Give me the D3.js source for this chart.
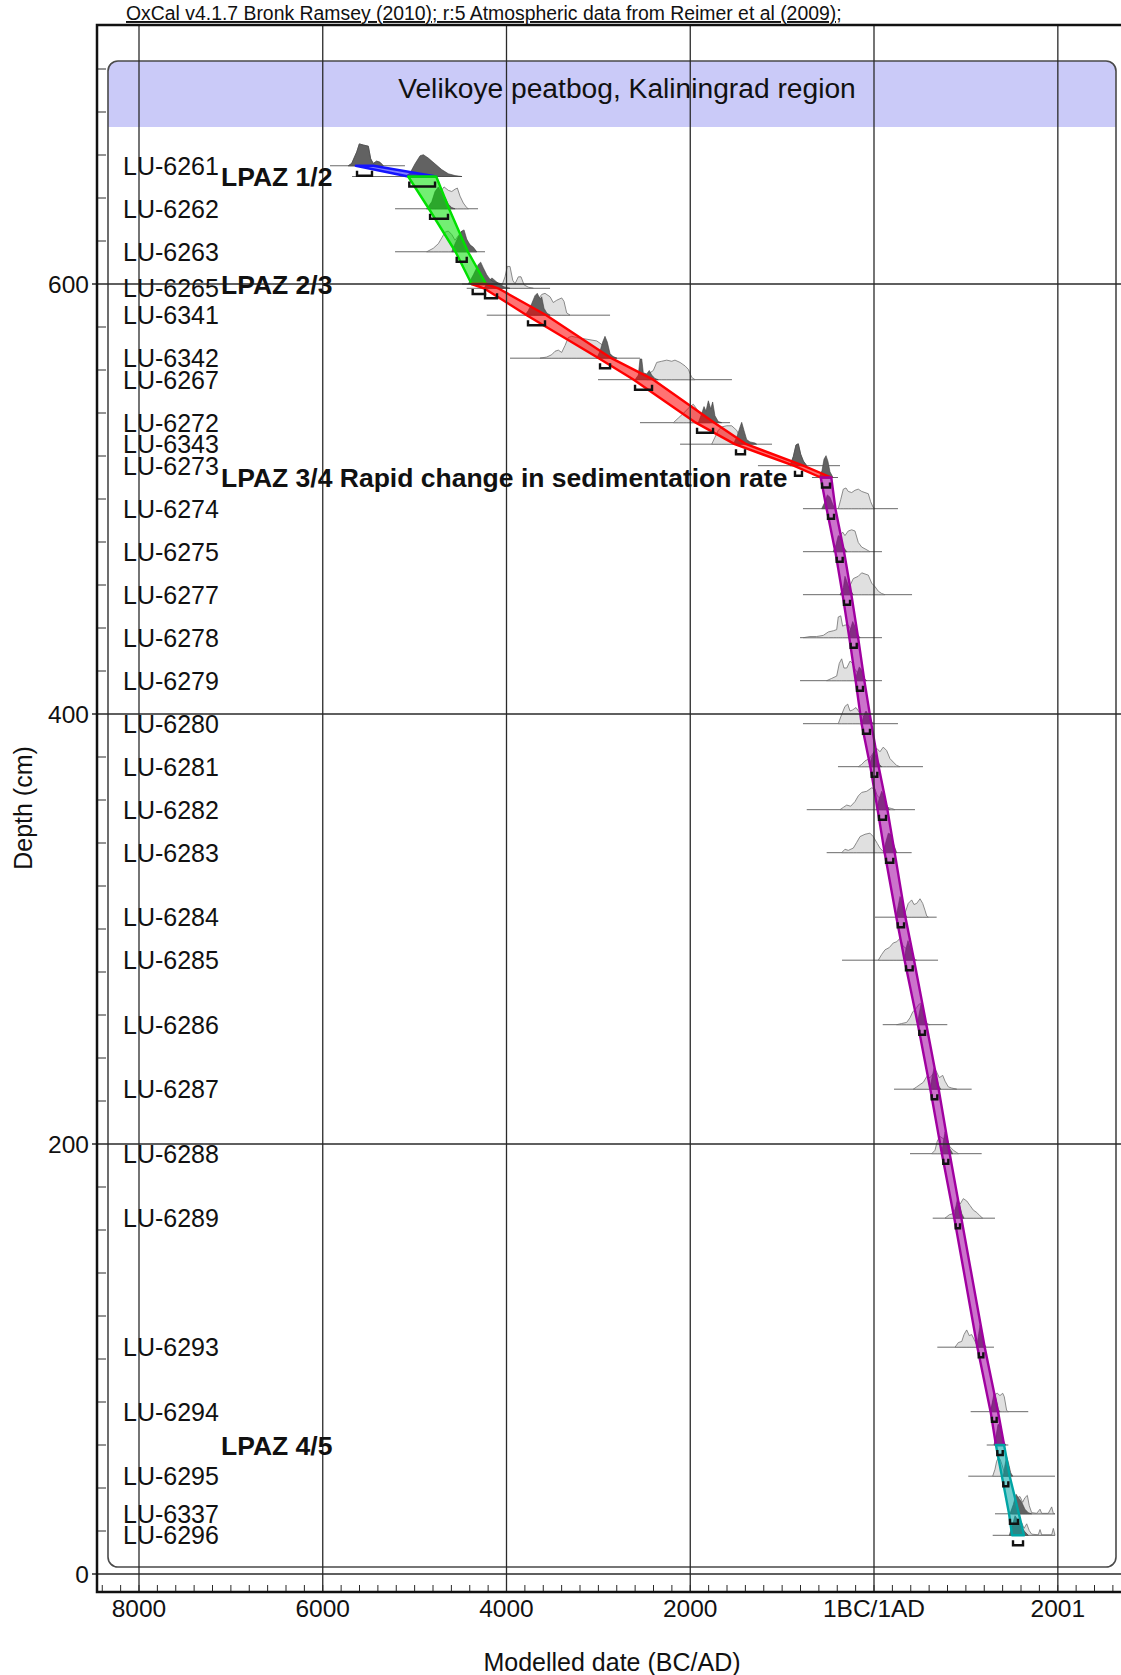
<!DOCTYPE html>
<html>
<head>
<meta charset="utf-8">
<script src="https://cdn.jsdelivr.net/npm/d3@7"></script>
<style>
  body { margin: 0; background: #fff; }
  svg { display: block; }
  text { font-family: "Liberation Sans", Arial, sans-serif; fill: #111; }
</style>
</head>
<body>
<svg id="chart"></svg>
<script>
// axis ticks (calendar years, BC negative)
const xTicks = [-8000, -6000, -4000, -2000, 0, 2001]
const xTickLabels = ['8000', '6000', '4000', '2000', '1BC/1AD', '2001']
const yTicks = [0, 200, 400, 600]

// dated samples, top of the core first
const sampleNames = ['LU-6261','LU-6262','LU-6263','LU-6265','LU-6341','LU-6342','LU-6267','LU-6272','LU-6343','LU-6273',
  'LU-6274','LU-6275','LU-6277','LU-6278','LU-6279','LU-6280','LU-6281','LU-6282','LU-6283','LU-6284',
  'LU-6285','LU-6286','LU-6287','LU-6288','LU-6289','LU-6293','LU-6294','LU-6295','LU-6337','LU-6296']
const sampleDepths = [655, 635, 615, 598, 585.5, 565.5, 555.5, 535.5, 525.5, 515.5,
  495.5, 475.5, 455.5, 435.5, 415.5, 395.5, 375.5, 355.5, 335.5, 305.5,
  285.5, 255.5, 225.5, 195.5, 165.5, 105.5, 75.5, 45.5, 28, 18]
// extent of each calibrated distribution's base line
const sampleSpans = [[-5921,-5105],[-5213,-4310],[-5213,-4234],[-4433,-3526],[-4215,-2873],[-3962,-2547],[-3004,-1546],[-2547,-1567],[-2111,-1110],[-1263,-370],
  [-773,261],[-773,87],[-773,414],[-805,87],[-805,87],[-773,261],[-392,533],[-732,446],[-515,410],[11,682],
  [-348,697],[95,798],[218,1063],[392,1172],[639,1317],[689,1306],[1052,1679],[1026,1970],[1317,1970],[1292,1970]]

// unmodelled (calibrated) distributions: [year, relative height]
const likelihoods = [
  [[-5722,0],[-5685,.1],[-5630,.6],[-5602,.95],[-5558,.9],[-5504,.85],[-5478,.3],[-5450,.1],[-5413,.2],[-5377,.15],[-5341,0]],
  [[-4868,0],[-4814,.2],[-4778,.5],[-4724,.7],[-4680,.95],[-4633,.8],[-4596,.75],[-4560,.85],[-4535,.9],[-4506,.55],[-4470,.25],[-4433,.05],[-4416,0]],
  [[-4868,0],[-4797,.15],[-4742,.35],[-4705,.6],[-4669,.85],[-4633,.9],[-4596,.75],[-4560,.5],[-4524,.7],[-4487,.9],[-4452,.55],[-4416,.35],[-4361,.15],[-4324,0]],
  [[-4107,0],[-4052,.1],[-4016,.5],[-3991,.95],[-3962,.95],[-3932,.35],[-3907,.2],[-3871,.5],[-3842,.5],[-3809,.15],[-3763,.05],[-3708,0]],
  [[-3744,0],[-3690,.3],[-3654,.7],[-3617,.9],[-3581,.95],[-3526,.8],[-3491,.55],[-3453,.65],[-3399,.75],[-3374,.6],[-3345,.1],[-3309,0]],
  [[-3635,0],[-3562,.05],[-3508,.15],[-3472,.3],[-3436,.35],[-3399,.25],[-3363,.55],[-3327,.9],[-3290,.95],[-3236,.9],[-3164,.85],[-3091,.8],[-3018,.75],[-2964,.6],[-2909,.3],[-2855,.1],[-2800,0]],
  [[-2474,0],[-2438,.3],[-2402,.4],[-2365,.75],[-2311,.8],[-2256,.85],[-2202,.8],[-2166,.85],[-2111,.75],[-2057,.6],[-2021,.45],[-1984,.1],[-1948,0]],
  [[-2184,0],[-2130,.2],[-2076,.4],[-2039,.55],[-2003,.7],[-1967,.8],[-1930,.6],[-1894,.4],[-1858,.3],[-1821,.2],[-1785,0]],
  [[-1766,0],[-1731,.3],[-1695,.6],[-1658,.75],[-1603,.8],[-1549,.8],[-1494,.6],[-1458,.3],[-1423,.1],[-1386,0]],
  [[-914,0],[-878,.4],[-849,.9],[-824,.95],[-798,.5],[-769,.2],[-732,0]],
  [[-389,0],[-362,.4],[-334,.85],[-305,.9],[-280,.75],[-243,.7],[-207,.8],[-171,.85],[-134,.75],[-98,.7],[-62,.65],[-36,.3],[-8,.05],[11,0]],
  [[-443,0],[-406,.2],[-370,.7],[-341,.85],[-316,.7],[-280,.9],[-243,.95],[-207,.9],[-171,.4],[-134,.2],[-87,.1],[-44,0]],
  [[-370,0],[-316,.2],[-261,.4],[-225,.7],[-171,.8],[-134,.95],[-98,.9],[-62,.85],[-25,.5],[11,.35],[47,.15],[84,.05],[120,0]],
  [[-769,0],[-697,.05],[-624,.05],[-552,.1],[-497,.25],[-443,.3],[-406,.35],[-389,.9],[-362,.95],[-341,.5],[-316,.55],[-280,.55],[-243,.3],[-207,.1],[-171,0]],
  [[-515,0],[-460,.1],[-406,.2],[-378,.75],[-352,.95],[-327,.55],[-297,.55],[-261,.85],[-232,.75],[-207,.5],[-171,.3],[-134,.05],[-116,0]],
  [[-389,0],[-352,.4],[-316,.75],[-286,.85],[-261,.55],[-232,.6],[-196,.7],[-160,.5],[-123,.35],[-87,.2],[-51,.1],[-25,.05],[11,0]],
  [[-171,0],[-134,.1],[-98,.25],[-51,.35],[-8,.6],[29,.8],[65,.65],[101,.85],[138,.7],[174,.35],[210,.2],[247,.05],[283,0]],
  [[-370,0],[-334,.1],[-297,.2],[-254,.15],[-207,.35],[-171,.6],[-134,.75],[-79,.8],[-25,.95],[11,.9],[36,.6],[65,.5],[101,.3],[138,.1],[193,.05],[229,0]],
  [[-352,0],[-316,.15],[-280,.1],[-225,.2],[-188,.45],[-152,.7],[-98,.8],[-44,.85],[-8,.7],[36,.4],[65,.2],[101,.05],[138,0]],
  [[319,0],[348,.3],[373,.6],[410,.75],[435,.55],[465,.6],[501,.8],[530,.6],[555,.3],[574,.05],[591,0]],
  [[47,0],[84,.25],[120,.45],[167,.55],[210,.75],[247,.8],[283,.95],[319,.6],[356,.5],[392,.2],[428,.05],[465,0]],
  [[247,0],[301,.05],[356,.1],[392,.3],[421,.55],[446,.65],[465,.75],[493,.9],[519,.95],[544,.3],[574,.05],[610,0]],
  [[428,0],[465,.1],[501,.2],[537,.3],[574,.55],[610,.5],[639,.65],[675,.8],[711,.5],[748,.6],[773,.35],[809,.1],[846,.05],[900,0]],
  [[628,0],[664,.15],[689,.55],[718,.75],[754,.65],[791,.6],[827,.3],[863,.15],[900,.05],[918,0]],
  [[773,0],[820,.15],[863,.2],[900,.55],[936,.6],[972,.85],[1009,.75],[1045,.55],[1081,.35],[1118,.25],[1154,.1],[1183,0]],
  [[882,0],[918,.2],[955,.25],[980,.55],[1009,.75],[1037,.5],[1063,.55],[1088,.35],[1118,.1],[1146,0]],
  [[1270,0],[1292,.4],[1317,.75],[1342,.8],[1371,.7],[1401,.8],[1418,.65],[1444,.05],[1462,0]],
  [[1292,0],[1317,.3],[1335,.65],[1353,.8],[1371,.75],[1393,.5],[1415,.2],[1437,.05],[1462,0]],
  [[1499,0],[1535,.4],[1560,.7],[1589,.75],[1618,.5],[1643,.7],[1669,.8],[1690,.35],[1716,.05],[1771,.02],[1807,.2],[1825,.02],[1897,.02],[1934,.3],[1952,.02],[1970,0]],
  [[1499,0],[1535,.5],[1571,.6],[1608,.55],[1633,.3],[1662,.5],[1690,.2],[1716,.05],[1788,.02],[1807,.25],[1825,.02],[1934,.02],[1952,.3],[1970,0]]
]

// modelled (posterior) distributions
const posteriors = [
  [[-5722,0],[-5685,.1],[-5630,.6],[-5602,.95],[-5558,.9],[-5504,.85],[-5478,.3],[-5450,.1],[-5413,.2],[-5377,.15],[-5341,0]],
  [[-4868,0],[-4814,.3],[-4778,.75],[-4742,.95],[-4705,.7],[-4669,.5],[-4633,.2],[-4596,.05],[-4560,0]],
  [[-4596,0],[-4560,.35],[-4524,.65],[-4487,.9],[-4462,.95],[-4433,.55],[-4397,.3],[-4361,.2],[-4324,0]],
  [[-4245,0],[-4201,.3],[-4158,.45],[-4114,.3],[-4071,.15],[-4016,.05],[-3962,0]],
  [[-3799,0],[-3763,.2],[-3726,.5],[-3690,.85],[-3665,.95],[-3635,.7],[-3617,.8],[-3592,.3],[-3562,.1],[-3526,0]],
  [[-3018,0],[-2982,.3],[-2953,.7],[-2928,.95],[-2903,.7],[-2873,.2],[-2837,.05],[-2800,0]],
  [[-2601,0],[-2565,.2],[-2547,.9],[-2528,.9],[-2511,.3],[-2474,.25],[-2446,.4],[-2420,.2],[-2384,.05],[-2348,0]],
  [[-1912,0],[-1875,.4],[-1850,.7],[-1829,.5],[-1803,.95],[-1777,.6],[-1756,.9],[-1731,.3],[-1695,.05],[-1658,0]],
  [[-1531,0],[-1494,.3],[-1458,.75],[-1440,.95],[-1415,.6],[-1386,.2],[-1350,.1],[-1295,.05],[-1277,0]],
  [[-914,0],[-878,.4],[-849,.9],[-824,.95],[-798,.5],[-769,.2],[-732,0]],
  [[-569,0],[-533,.3],[-508,.6],[-479,.5],[-450,.2],[-424,0]],
  [[-443,0],[-414,.3],[-389,.7],[-362,.6],[-334,.2],[-297,0]],
  [[-370,0],[-334,.3],[-316,.8],[-297,.6],[-261,.2],[-225,0]],
  [[-280,0],[-254,.4],[-232,.7],[-207,.5],[-182,.15],[-152,0]],
  [[-207,0],[-182,.35],[-160,.6],[-134,.45],[-109,.1],[-79,0]],
  [[-134,0],[-109,.4],[-87,.55],[-62,.4],[-36,.1],[-8,0]],
  [[-51,0],[-25,.4],[0,.65],[29,.4],[58,.1],[84,0]],
  [[29,0],[58,.5],[84,.8],[109,.6],[138,.2],[167,0]],
  [[101,0],[131,.5],[156,.85],[182,.8],[210,.4],[247,0]],
  [[239,0],[264,.5],[283,.9],[305,.7],[327,.2],[356,0]],
  [[327,0],[348,.5],[370,.85],[392,.6],[421,.2],[446,0]],
  [[471,0],[493,.5],[512,.9],[530,.8],[555,.2],[580,0]],
  [[610,0],[631,.5],[653,.9],[675,.6],[704,.15],[726,0]],
  [[737,0],[754,.5],[773,.95],[798,.65],[827,.2],[857,0]],
  [[871,0],[892,.5],[911,.9],[928,.65],[955,.2],[980,0]],
  [[1118,0],[1140,.6],[1154,.95],[1175,.6],[1197,.15],[1219,0]],
  [[1270,0],[1292,.5],[1309,.85],[1328,.55],[1353,.1],[1371,0]],
  [[1407,0],[1426,.5],[1444,.85],[1462,.6],[1488,.15],[1510,0]],
  [[1480,0],[1516,.4],[1546,.85],[1571,.7],[1608,.5],[1643,.2],[1679,.05],[1716,0]],
  [[1473,0],[1510,.5],[1535,.85],[1560,.7],[1597,.4],[1643,.15],[1679,0]]
]

// 95% modelled ranges (brackets)
const sampleRanges = [[-5627,-5464],[-4832,-4637],[-4542,-4433],[-4234,-4103],[-3766,-3581],[-2982,-2873],[-2601,-2416],[-1926,-1752],[-1502,-1404],[-860,-784],
  [-501,-435],[-406,-341],[-327,-261],[-254,-188],[-185,-120],[-120,-44],[-25,36],[54,131],[131,210],[258,327],
  [348,421],[493,555],[628,689],[754,809],[889,936],[1140,1190],[1284,1335],[1407,1462],[1480,1567],[1513,1622]]

// pollen zone boundaries
const boundaryNames = ['LPAZ 1/2', 'LPAZ 2/3', 'LPAZ 3/4 Rapid change in sedimentation rate', 'LPAZ 4/5']
const boundaryDepths = [650, 600, 510, 60]
const boundarySpans = [[-5681,-4484],[-4484,-4016],[-675,-392],[1227,1462]]
const boundaryPosteriors = [
  [[-5105,0],[-5050,.15],[-4996,.55],[-4941,.9],[-4905,.95],[-4851,.8],[-4778,.55],[-4705,.3],[-4633,.12],[-4560,.04],[-4487,0]],
  [[-4416,0],[-4361,.4],[-4307,.85],[-4281,.95],[-4252,.7],[-4215,.4],[-4179,.2],[-4144,.1],[-4089,.05],[-4052,0]],
  [[-599,0],[-566,.3],[-544,.8],[-522,.95],[-501,.7],[-479,.25],[-446,0]],
  [[1306,0],[1328,.4],[1350,.9],[1371,.85],[1393,.4],[1415,.1],[1437,0]]
]
const boundaryRanges = [[-5058,-4778],[-4368,-4234],[-566,-479],[1342,1401]]

// age-depth model envelope per zone: [depth, from, to]
const envZone1 = [[655,-5640,-5450],[650,-5070,-4765]]
const envZone2 = [[650,-5070,-4765],[635,-4845,-4625],[615,-4555,-4420],[600,-4380,-4222]]
const envZone3 = [[600,-4380,-4222],[598,-4246,-4091],[585.5,-3780,-3567],[565.5,-2996,-2859],[555.5,-2615,-2402],
  [535.5,-1940,-1738],[525.5,-1516,-1390],[515.5,-874,-770],[510,-580,-465]]
const envZone4 = [[510,-580,-465],[495.5,-516,-420],[475.5,-421,-326],[455.5,-342,-246],[435.5,-269,-173],[415.5,-200,-105],
  [395.5,-135,-29],[375.5,-40,51],[355.5,39,146],[335.5,116,225],[305.5,243,342],[285.5,333,436],[255.5,478,570],
  [225.5,613,704],[195.5,739,824],[165.5,874,951],[105.5,1125,1205],[75.5,1269,1350],[60,1327,1416]]
const envZone5 = [[60,1327,1416],[45.5,1392,1477],[28,1470,1577],[18,1503,1632]]
const zoneColours = ['#1414ff', '#00e000', '#ff0000', '#a000a0', '#00a4a4']

const W = 1121, H = 1675
const svg = d3.select('#chart').attr('width', W).attr('height', H)

const x = d3.scaleLinear().domain([-8000, 2000]).range([139, 1057.75])
const y = d3.scaleLinear().domain([0, 600]).range([1574, 284])
const hgt = d3.scaleLinear().domain([0, 1]).range([0, 23])

const frameL = 97, frameT = 25, frameB = 1592, frameR = 1135

// panel box with lavender header
const box = { x0: 108, x1: 1116, y0: 61, y1: 1567, head: 127, r: 10 }
svg.append('path')
  .attr('d', `M${box.x0},${box.head}V${box.y0 + box.r}Q${box.x0},${box.y0} ${box.x0 + box.r},${box.y0}H${box.x1 - box.r}Q${box.x1},${box.y0} ${box.x1},${box.y0 + box.r}V${box.head}Z`)
  .attr('fill', '#cacaf8')
svg.append('rect')
  .attr('x', box.x0).attr('y', box.y0)
  .attr('width', box.x1 - box.x0).attr('height', box.y1 - box.y0)
  .attr('rx', box.r)
  .attr('fill', 'none').attr('stroke', '#4a4a4a').attr('stroke-width', 1.6)

const samples = sampleNames.map((name, i) => ({
  name, depth: sampleDepths[i], span: sampleSpans[i],
  like: likelihoods[i], post: posteriors[i], range: sampleRanges[i]
}))
const bounds = boundaryNames.map((name, i) => ({
  name, depth: boundaryDepths[i], span: boundarySpans[i],
  like: null, post: boundaryPosteriors[i], range: boundaryRanges[i]
}))
const items = samples.concat(bounds)

const distArea = depth => d3.area()
  .x(d => x(d[0]))
  .y0(y(depth))
  .y1(d => y(depth) - hgt(d[1]))

const dists = svg.append('g')

dists.selectAll('line.base')
  .data(items)
  .join('line')
    .attr('class', 'base')
    .attr('x1', d => x(d.span[0])).attr('x2', d => x(d.span[1]))
    .attr('y1', d => y(d.depth)).attr('y2', d => y(d.depth))
    .attr('stroke', '#6a6a6a').attr('stroke-width', 1)

dists.selectAll('path.like')
  .data(items.filter(d => d.like))
  .join('path')
    .attr('class', 'like')
    .attr('d', d => distArea(d.depth)(d.like))
    .attr('fill', '#e0e0e0').attr('stroke', '#707070').attr('stroke-width', 0.8)

dists.selectAll('path.post')
  .data(items)
  .join('path')
    .attr('class', 'post')
    .attr('d', d => distArea(d.depth)(d.post))
    .attr('fill', '#626262').attr('stroke', '#404040').attr('stroke-width', 0.6)

// model envelopes
const envArea = d3.area()
  .y(d => y(d[0]))
  .x0(d => x(d[1]))
  .x1(d => x(d[2]))

svg.append('g')
  .selectAll('path')
  .data([envZone1, envZone2, envZone3, envZone4, envZone5])
  .join('path')
    .attr('d', envArea)
    .attr('fill', (d, i) => zoneColours[i]).attr('fill-opacity', 0.55)
    .attr('stroke', (d, i) => zoneColours[i]).attr('stroke-width', 2.4)
    .attr('stroke-linejoin', 'round')

// 95% range brackets
svg.append('g')
  .selectAll('path')
  .data(items)
  .join('path')
    .attr('d', d => {
      const yy = y(d.depth)
      return `M${x(d.range[0])},${yy + 5}V${yy + 10}H${x(d.range[1])}V${yy + 5}`
    })
    .attr('fill', 'none').attr('stroke', '#111').attr('stroke-width', 2.4)

// grid lines
const grid = svg.append('g').attr('stroke', '#2a2a2a').attr('stroke-width', 1.3)
grid.selectAll('line.gx')
  .data(xTicks)
  .join('line')
    .attr('class', 'gx')
    .attr('x1', d => x(d)).attr('x2', d => x(d))
    .attr('y1', frameT).attr('y2', frameB)
grid.selectAll('line.gy')
  .data(yTicks)
  .join('line')
    .attr('class', 'gy')
    .attr('x1', frameL - 5).attr('x2', frameR)
    .attr('y1', d => y(d)).attr('y2', d => y(d))

// minor ticks
const yMinor = d3.range(20, 720, 20).filter(d => d % 200 !== 0)
grid.selectAll('line.my')
  .data(yMinor)
  .join('line')
    .attr('class', 'my')
    .attr('x1', frameL).attr('x2', frameL + 9)
    .attr('y1', d => y(d)).attr('y2', d => y(d))
    .attr('stroke-width', 1)
const xMinor = d3.range(-8400, 2800, 200)
grid.selectAll('line.mx')
  .data(xMinor)
  .join('line')
    .attr('class', 'mx')
    .attr('x1', d => x(d)).attr('x2', d => x(d))
    .attr('y1', frameB).attr('y2', frameB - 7)
    .attr('stroke-width', 1)

// frame
svg.append('path')
  .attr('d', `M${frameR},${frameT}H${frameL}V${frameB}H${frameR}`)
  .attr('fill', 'none').attr('stroke', '#111').attr('stroke-width', 2.5)

// tick labels
svg.append('g')
  .selectAll('text')
  .data(xTicks)
  .join('text')
    .attr('x', d => x(d)).attr('y', 1617)
    .attr('text-anchor', 'middle')
    .style('font-size', '24.5px')
    .text((d, i) => xTickLabels[i])

svg.append('g')
  .selectAll('text')
  .data(yTicks)
  .join('text')
    .attr('x', 89).attr('y', d => y(d))
    .attr('dy', '0.36em')
    .attr('text-anchor', 'end')
    .style('font-size', '24.5px')
    .text(d => d)

// axis titles
svg.append('text')
  .attr('x', 612).attr('y', 1671)
  .attr('text-anchor', 'middle')
  .style('font-size', '25px')
  .text('Modelled date (BC/AD)')
svg.append('text')
  .attr('transform', 'translate(32,808) rotate(-90)')
  .attr('text-anchor', 'middle')
  .style('font-size', '25px')
  .text('Depth (cm)')

svg.append('text')
  .attr('x', 126).attr('y', 20)
  .style('font-size', '19.4px')
  .style('text-decoration', 'underline')
  .text('OxCal v4.1.7 Bronk Ramsey (2010); r:5 Atmospheric data from Reimer et al (2009);')

svg.append('text')
  .attr('x', 627).attr('y', 98)
  .attr('text-anchor', 'middle')
  .style('font-size', '28.2px')
  .text('Velikoye peatbog, Kaliningrad region')

// sample and boundary names
svg.append('g')
  .selectAll('text')
  .data(samples)
  .join('text')
    .attr('x', 123).attr('y', d => y(d.depth))
    .attr('dy', '0.36em')
    .style('font-size', '25px')
    .text(d => d.name)

svg.append('g')
  .selectAll('text')
  .data(bounds)
  .join('text')
    .attr('x', 221).attr('y', d => y(d.depth))
    .attr('dy', '0.36em')
    .style('font-size', '26.5px')
    .style('font-weight', 'bold')
    .text(d => d.name)
</script>
</body>
</html>
